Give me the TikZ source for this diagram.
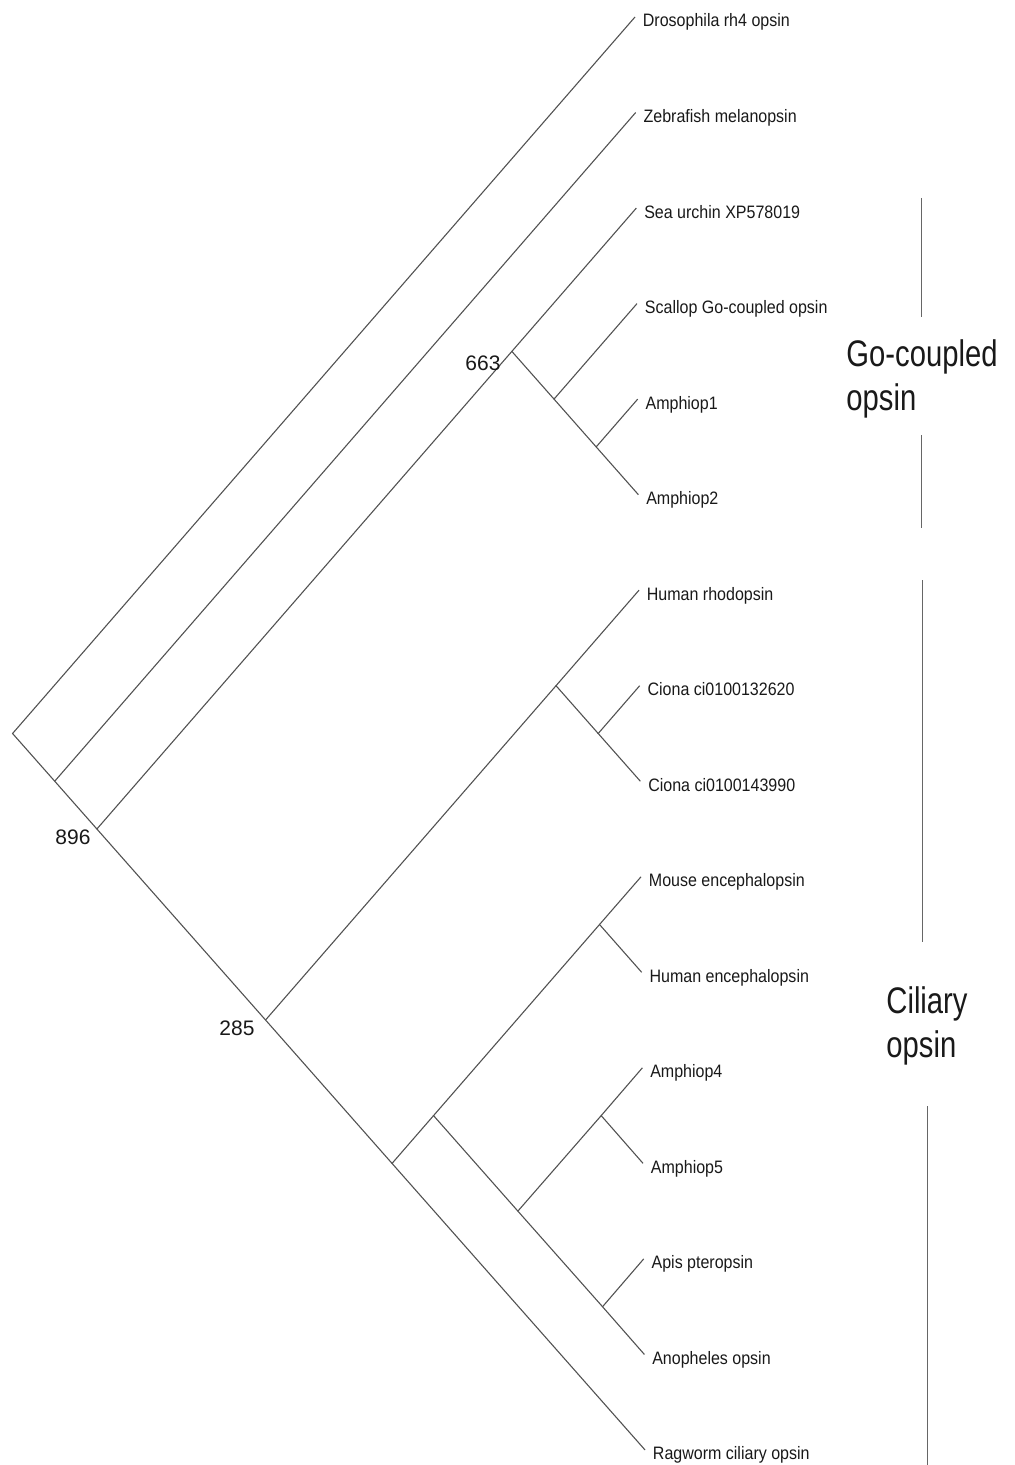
\documentclass[tikz,border=0pt]{standalone}
\usepackage{fontspec}
\setmainfont{Liberation Sans}
\usepackage{graphicx}
\newcommand\lfx[1]{\scalebox{0.89}[1]{#1}}
\newcommand\bgx[1]{\scalebox{0.79}[1]{#1}}
\begin{document}
\begin{tikzpicture}[x=0.5pt,y=-0.5pt,
  branch/.style={draw=black!68,line width=0.55pt},
  bracket/.style={draw=black!60,line width=0.55pt},
  leaf/.style={anchor=base west,inner sep=0pt,text=black!90,font=\fontsize{9}{11}\selectfont},
  boot/.style={anchor=base west,inner sep=0pt,text=black!90,font=\fontsize{10.5}{12}\selectfont},
  group/.style={anchor=base west,inner sep=0pt,text=black!90,font=\fontsize{18.5}{22}\selectfont}]
\useasboundingbox (0,0) rectangle (1014,1465);
% leaf tips
\coordinate (t0) at (635.00,17.00);
\coordinate (t1) at (635.67,112.53);
\coordinate (t2) at (636.34,208.06);
\coordinate (t3) at (637.01,303.59);
\coordinate (t4) at (637.68,399.12);
\coordinate (t5) at (638.35,494.65);
\coordinate (t6) at (639.01,590.18);
\coordinate (t7) at (639.68,685.71);
\coordinate (t8) at (640.35,781.24);
\coordinate (t9) at (641.02,876.77);
\coordinate (t10) at (641.69,972.30);
\coordinate (t11) at (642.36,1067.83);
\coordinate (t12) at (643.03,1163.36);
\coordinate (t13) at (643.70,1258.89);
\coordinate (t14) at (644.37,1354.42);
\coordinate (t15) at (645.04,1449.95);
% internal nodes
\coordinate (root) at (12.57,733.5);
\coordinate (n1) at (54.73,781.2);
\coordinate (n896) at (96.89,829.0);
\coordinate (n663) at (511.85,351.4);
\coordinate (nsc) at (554.01,399.1);
\coordinate (na12) at (596.18,446.9);
\coordinate (n285) at (265.55,1020.0);
\coordinate (nci) at (556.02,685.7);
\coordinate (nciona) at (598.19,733.5);
\coordinate (nl) at (392.04,1163.4);
\coordinate (nm) at (433.54,1115.6);
\coordinate (ne) at (599.52,924.5);
\coordinate (nq) at (517.87,1211.1);
\coordinate (na45) at (601.19,1115.6);
\coordinate (nap) at (602.53,1306.7);
% branches
\draw[branch] (t0) -- (root) -- (n1);
\draw[branch] (t1) -- (n1) -- (n896);
\draw[branch] (n663) -- (n896) -- (n285);
\draw[branch] (t2) -- (n663) -- (nsc);
\draw[branch] (t3) -- (nsc) -- (na12);
\draw[branch] (t4) -- (na12) -- (t5);
\draw[branch] (nci) -- (n285) -- (nl);
\draw[branch] (t6) -- (nci) -- (nciona);
\draw[branch] (t7) -- (nciona) -- (t8);
\draw[branch] (nm) -- (nl) -- (t15);
\draw[branch] (ne) -- (nm) -- (nq);
\draw[branch] (t9) -- (ne) -- (t10);
\draw[branch] (na45) -- (nq) -- (nap);
\draw[branch] (t11) -- (na45) -- (t12);
\draw[branch] (t13) -- (nap) -- (t14);
% leaf labels
\node[leaf] (l0) at ([shift={(7.5,10)}]t0) {\lfx{Drosophila rh4 opsin}};
\node[leaf] (l1) at ([shift={(7.5,10)}]t1) {\lfx{Zebrafish melanopsin}};
\node[leaf] (l2) at ([shift={(7.5,10)}]t2) {\lfx{Sea urchin XP578019}};
\node[leaf] (l3) at ([shift={(7.5,10)}]t3) {\lfx{Scallop Go-coupled opsin}};
\node[leaf] (l4) at ([shift={(7.5,10)}]t4) {\lfx{Amphiop1}};
\node[leaf] (l5) at ([shift={(7.5,10)}]t5) {\lfx{Amphiop2}};
\node[leaf] (l6) at ([shift={(7.5,10)}]t6) {\lfx{Human rhodopsin}};
\node[leaf] (l7) at ([shift={(7.5,10)}]t7) {\lfx{Ciona ci0100132620}};
\node[leaf] (l8) at ([shift={(7.5,10)}]t8) {\lfx{Ciona ci0100143990}};
\node[leaf] (l9) at ([shift={(7.5,10)}]t9) {\lfx{Mouse encephalopsin}};
\node[leaf] (l10) at ([shift={(7.5,10)}]t10) {\lfx{Human encephalopsin}};
\node[leaf] (l11) at ([shift={(7.5,10)}]t11) {\lfx{Amphiop4}};
\node[leaf] (l12) at ([shift={(7.5,10)}]t12) {\lfx{Amphiop5}};
\node[leaf] (l13) at ([shift={(7.5,10)}]t13) {\lfx{Apis pteropsin}};
\node[leaf] (l14) at ([shift={(7.5,10)}]t14) {\lfx{Anopheles opsin}};
\node[leaf] (l15) at ([shift={(7.5,10)}]t15) {\lfx{Ragworm ciliary opsin}};
% bootstrap values
\node[boot] (b896) at (55,844) {896};
\node[boot] (b663) at (465,370) {663};
\node[boot] (b285) at (219,1035.7) {285};
% group brackets
\coordinate (ga1) at (921.7,198);
\coordinate (ga2) at (921.7,317);
\coordinate (gb1) at (921.7,435);
\coordinate (gb2) at (921.7,528);
\coordinate (ca1) at (922.5,580);
\coordinate (ca2) at (922.5,942);
\coordinate (cb1) at (927.7,1106);
\coordinate (cb2) at (927.7,1465);
\draw[bracket] (ga1) -- (ga2);
\draw[bracket] (gb1) -- (gb2);
\draw[bracket] (ca1) -- (ca2);
\draw[bracket] (cb1) -- (cb2);
\node[group] (g1) at (846,366.7) {\bgx{Go-coupled}};
\node[group] (g2) at (846,410.5) {\bgx{opsin}};
\node[group] (c1) at (886,1013) {\bgx{Ciliary}};
\node[group] (c2) at (886,1057) {\bgx{opsin}};
\end{tikzpicture}
\end{document}
